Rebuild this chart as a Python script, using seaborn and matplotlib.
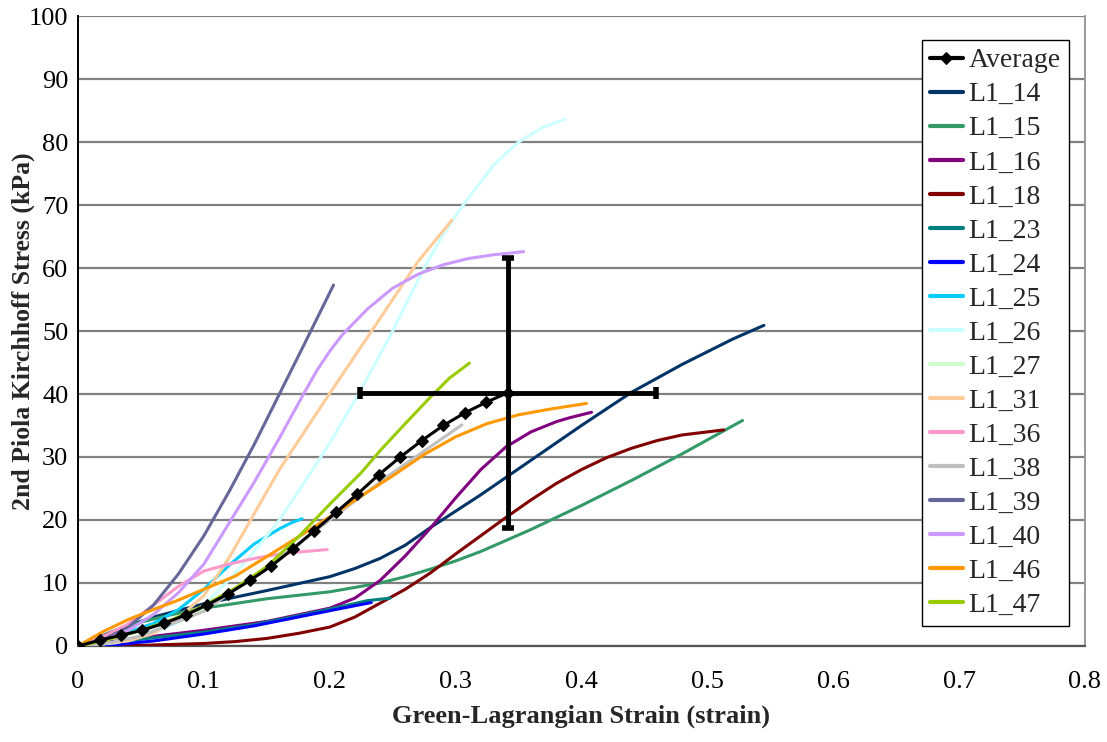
import matplotlib
matplotlib.use("Agg")
import matplotlib.pyplot as plt
import numpy as np
import pandas as pd
import seaborn as sns

# ---- specimen curves: strain (x) and stress in kPa (y) ----
l1_14_x = [0, 0.03, 0.06, 0.10, 0.15, 0.20, 0.22, 0.24, 0.26, 0.28, 0.30, 0.32, 0.36, 0.40, 0.44, 0.48, 0.52, 0.545]
l1_14_y = [0, 2.5, 4.6, 6.7, 8.8, 11.0, 12.3, 13.9, 16.0, 18.8, 21.4, 24.0, 29.5, 35.0, 40.3, 44.7, 48.7, 50.9]

l1_15_x = [0, 0.025, 0.05, 0.075, 0.10, 0.15, 0.20, 0.24, 0.26, 0.28, 0.30, 0.32, 0.36, 0.40, 0.44, 0.48, 0.528]
l1_15_y = [0, 2.0, 3.8, 5.0, 6.0, 7.5, 8.6, 10.0, 11.0, 12.2, 13.5, 15.0, 18.5, 22.3, 26.3, 30.5, 35.8]

l1_16_x = [0, 0.05, 0.10, 0.15, 0.20, 0.22, 0.24, 0.26, 0.28, 0.30, 0.32, 0.34, 0.36, 0.38, 0.39, 0.408]
l1_16_y = [0, 1.3, 2.5, 3.9, 6.0, 7.6, 10.4, 14.3, 18.7, 23.5, 28.0, 31.6, 34.0, 35.6, 36.2, 37.1]

l1_18_x = [0, 0.05, 0.10, 0.125, 0.15, 0.175, 0.20, 0.22, 0.24, 0.26, 0.28, 0.30, 0.32, 0.34, 0.36,
           0.38, 0.40, 0.42, 0.44, 0.46, 0.48, 0.513]
l1_18_y = [0, 0.1, 0.4, 0.7, 1.2, 2.0, 3.0, 4.6, 6.8, 9.0, 11.6, 14.6, 17.5, 20.4, 23.2,
           25.8, 28.0, 29.9, 31.4, 32.6, 33.5, 34.3]

l1_23_x = [0, 0.03, 0.06, 0.10, 0.14, 0.18, 0.21, 0.23, 0.248]
l1_23_y = [0, 0.6, 1.3, 2.2, 3.4, 5.0, 6.3, 7.2, 7.6]

l1_24_x = [0, 0.03, 0.06, 0.10, 0.14, 0.18, 0.21, 0.233]
l1_24_y = [0, 0.2, 0.8, 1.9, 3.2, 4.8, 6.0, 6.9]

l1_25_x = [0, 0.03, 0.06, 0.08, 0.10, 0.12, 0.14, 0.16, 0.17, 0.178]
l1_25_y = [0, 1.5, 3.6, 5.8, 9.0, 12.8, 16.2, 18.6, 19.6, 20.2]

l1_26_x = [0, 0.03, 0.06, 0.08, 0.10, 0.12, 0.14, 0.16, 0.18, 0.20, 0.224, 0.25, 0.275, 0.29,
           0.306, 0.33, 0.35, 0.37, 0.387]
l1_26_y = [0, 0.5, 2.0, 3.8, 6.5, 10.5, 15.0, 20.0, 26.0, 32.2, 40.4, 50.0, 60.0, 65.3,
           70.0, 76.3, 80.0, 82.4, 83.6]

l1_27_x = [0, 0.02, 0.04, 0.06, 0.08, 0.10]
l1_27_y = [0, 0.9, 1.8, 3.0, 4.3, 6.0]

l1_31_x = [0, 0.04, 0.06, 0.08, 0.10, 0.12, 0.14, 0.16, 0.20, 0.24, 0.27, 0.297]
l1_31_y = [0, 0.8, 2.0, 4.5, 8.0, 14.0, 21.0, 28.0, 40.1, 52.0, 61.0, 67.6]

l1_36_x = [0, 0.02, 0.04, 0.06, 0.08, 0.10, 0.12, 0.14, 0.16, 0.18, 0.198]
l1_36_y = [0, 1.5, 3.5, 6.5, 9.5, 11.9, 13.0, 13.9, 14.6, 15.0, 15.3]

l1_38_x = [0, 0.02, 0.05, 0.10, 0.15, 0.20, 0.25, 0.305]
l1_38_y = [0, 0.3, 1.6, 5.5, 12.5, 20.0, 27.5, 35.1]

l1_39_x = [0, 0.02, 0.04, 0.06, 0.08, 0.10, 0.12, 0.14, 0.16, 0.18, 0.203]
l1_39_y = [0, 1.0, 3.0, 6.5, 11.5, 17.5, 24.5, 32.0, 40.0, 48.0, 57.3]

l1_40_x = [0, 0.02, 0.04, 0.06, 0.08, 0.10, 0.12, 0.14, 0.16, 0.18, 0.19, 0.20, 0.21, 0.23, 0.25,
           0.27, 0.29, 0.31, 0.33, 0.354]
l1_40_y = [0, 0.8, 2.5, 5.0, 8.5, 13.0, 19.5, 26.0, 33.0, 40.3, 43.8, 46.8, 49.4, 53.5, 56.8,
           59.0, 60.5, 61.5, 62.1, 62.6]

l1_46_x = [0, 0.02, 0.04, 0.06, 0.08, 0.10, 0.125, 0.15, 0.175, 0.20, 0.225, 0.25, 0.275, 0.30,
           0.325, 0.35, 0.375, 0.404]
l1_46_y = [0, 2.3, 4.2, 5.8, 7.3, 9.0, 11.1, 14.2, 17.3, 20.5, 23.8, 27.0, 30.4, 33.2,
           35.3, 36.7, 37.6, 38.5]

l1_47_x = [0, 0.02, 0.05, 0.075, 0.10, 0.125, 0.15, 0.175, 0.20, 0.225, 0.24, 0.26, 0.28, 0.295, 0.311]
l1_47_y = [0, 0.8, 2.5, 4.2, 6.4, 9.2, 12.6, 17.3, 22.5, 27.5, 31.0, 35.3, 39.5, 42.5, 44.9]

# ---- average curve with its end-point spread ----
avg_x = [0, 0.0171, 0.0341, 0.0512, 0.0683, 0.0854, 0.1024, 0.1195, 0.1366, 0.1536, 0.1707,
         0.1878, 0.2049, 0.2219, 0.2390, 0.2561, 0.2731, 0.2902, 0.3073, 0.3244, 0.3414]
avg_y = [0, 0.9, 1.7, 2.5, 3.6, 4.9, 6.5, 8.3, 10.4, 12.7, 15.4,
         18.3, 21.2, 24.1, 27.2, 30.0, 32.6, 35.0, 37.0, 38.7, 40.2]
avg_xerr = 0.1176
avg_yerr = 21.4

names = ["L1_14", "L1_15", "L1_16", "L1_18", "L1_23", "L1_24", "L1_25", "L1_26",
         "L1_27", "L1_31", "L1_36", "L1_38", "L1_39", "L1_40", "L1_46", "L1_47"]
colors = ["#003366", "#339966", "#800080", "#800000", "#008080", "#0000FF", "#00CCFF", "#CCFFFF",
          "#CCFFCC", "#FFCC99", "#FF99CC", "#C0C0C0", "#666699", "#CC99FF", "#FF9900", "#99CC00"]
xs = [l1_14_x, l1_15_x, l1_16_x, l1_18_x, l1_23_x, l1_24_x, l1_25_x, l1_26_x,
      l1_27_x, l1_31_x, l1_36_x, l1_38_x, l1_39_x, l1_40_x, l1_46_x, l1_47_x]
ys = [l1_14_y, l1_15_y, l1_16_y, l1_18_y, l1_23_y, l1_24_y, l1_25_y, l1_26_y,
      l1_27_y, l1_31_y, l1_36_y, l1_38_y, l1_39_y, l1_40_y, l1_46_y, l1_47_y]

x_ticks = [0, 0.1, 0.2, 0.3, 0.4, 0.5, 0.6, 0.7, 0.8]
x_tick_labels = ["0", "0.1", "0.2", "0.3", "0.4", "0.5", "0.6", "0.7", "0.8"]
y_ticks = [0, 10, 20, 30, 40, 50, 60, 70, 80, 90, 100]

rows = []
for n, xv, yv in zip(names, xs, ys):
    for a, b in zip(xv, yv):
        rows.append((n, a, b))
df = pd.DataFrame(rows, columns=["sample", "strain", "stress"])

sns.set_theme(style="white")
plt.rcParams["font.family"] = ["Liberation Serif", "DejaVu Serif"]

fig, ax = plt.subplots(figsize=(11.07, 7.42), dpi=100)
fig.subplots_adjust(left=0.0705, right=0.980, top=0.9784, bottom=0.1294)

sns.lineplot(data=df, x="strain", y="stress", hue="sample", hue_order=names,
             palette=dict(zip(names, colors)), sort=False, estimator=None,
             linewidth=2.2, ax=ax, zorder=3)

sns.lineplot(x=avg_x, y=avg_y, color="black", marker="D", markersize=6.5,
             markeredgecolor="black", linewidth=2.2, sort=False, estimator=None,
             label="Average", ax=ax, zorder=5)

ax.errorbar([avg_x[-1]], [avg_y[-1]], xerr=avg_xerr, yerr=avg_yerr, fmt="none",
            ecolor="black", elinewidth=3.5, capsize=4, capthick=4, zorder=6)

ax.set_xlim(0, 0.8)
ax.set_ylim(0, 100)
ax.set_xticks(x_ticks)
ax.set_xticklabels(x_tick_labels)
ax.set_yticks(y_ticks)
ax.tick_params(axis="both", labelsize=19, direction="out", length=6, width=1.2,
               colors="#444444", labelcolor="black")
ax.tick_params(axis="y", pad=2, length=5)
ax.tick_params(axis="x", pad=12)

ax.yaxis.grid(True, color="#808080", linewidth=1.6)
ax.xaxis.grid(False)
ax.set_axisbelow(True)
ax.spines["top"].set_visible(False)
ax.spines["right"].set_color("#999999")
ax.spines["right"].set_linewidth(1.4)
ax.spines["bottom"].set_color("#555555")
ax.spines["bottom"].set_linewidth(1.6)
ax.spines["left"].set_color("black")
ax.spines["left"].set_linewidth(1.4)

ax.set_xlabel("Green-Lagrangian Strain (strain)", fontsize=19, fontweight="bold", labelpad=8)
ax.set_ylabel("2nd Piola Kirchhoff Stress (kPa)", fontsize=18.5, fontweight="bold")
ax.yaxis.set_label_coords(-0.043, 0.5)

handles, labels = ax.get_legend_handles_labels()
order = [labels.index("Average")] + [labels.index(n) for n in names]
leg = ax.legend([handles[i] for i in order], [labels[i] for i in order],
                loc="upper left", bbox_to_anchor=(922 / 1107, 1 - 40 / 742),
                bbox_transform=fig.transFigure, fontsize=20, frameon=True,
                fancybox=False, edgecolor="black", framealpha=1,
                handlelength=1.2, handletextpad=0.2, labelspacing=0.31,
                borderpad=0.28, borderaxespad=0)
leg.get_frame().set_linewidth(1.0)
for h in leg.get_lines():
    h.set_linewidth(3)

fig.savefig("out.png", dpi=100)
